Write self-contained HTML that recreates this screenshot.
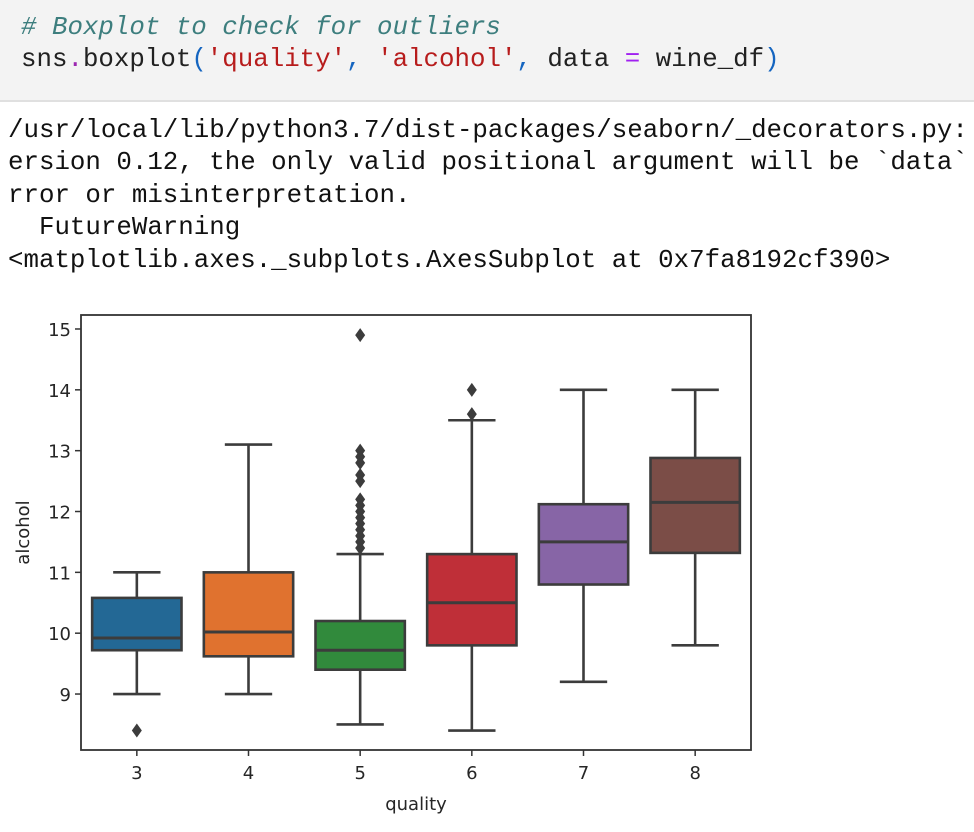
<!DOCTYPE html>
<html><head><meta charset="utf-8"><style>
body{margin:0;width:974px;height:832px;background:#fff;overflow:hidden;font-family:"Liberation Mono",monospace;}
#cell{position:absolute;left:0;top:0;width:974px;height:100px;background:#f3f3f3;border-bottom:2px solid #e0e0e0;}
.ln{position:absolute;left:21px;font-size:25.8px;white-space:pre;color:#212121;}
.out{position:absolute;left:8px;font-size:25.8px;white-space:pre;color:#111;}
svg{position:absolute;left:0;top:0;}
</style></head><body>
<div id="cell">
<div class="ln" style="top:13px;color:#3d7e7e;font-style:italic"># Boxplot to check for outliers</div>
<div class="ln" style="top:45px">sns<span style="color:#9c27b0">.</span>boxplot<span style="color:#1565c0">(</span><span style="color:#b71c1c">'quality'</span><span style="color:#1565c0">,</span> <span style="color:#b71c1c">'alcohol'</span><span style="color:#1565c0">,</span> data <span style="color:#a020f0">=</span> wine_df<span style="color:#1565c0">)</span></div>
</div>
<div class="out" style="top:116px">/usr/local/lib/python3.7/dist-packages/seaborn/_decorators.py:</div>
<div class="out" style="top:148px">ersion 0.12, the only valid positional argument will be `data`</div>
<div class="out" style="top:181px">rror or misinterpretation.</div>
<div class="out" style="top:213px">  FutureWarning</div>
<div class="out" style="top:246px">&lt;matplotlib.axes._subplots.AxesSubplot at 0x7fa8192cf390&gt;</div>
<svg id="chart" width="974" height="832"></svg>
<script>
const categories=["3","4","5","6","7","8"];
const whiskerLow=[9.0,9.0,8.5,8.4,9.2,9.8];
const q1Values=[9.72,9.62,9.4,9.8,10.8,11.32];
const medianValues=[9.92,10.02,9.72,10.5,11.5,12.15];
const q3Values=[10.58,11.0,10.2,11.3,12.12,12.88];
const whiskerHigh=[11.0,13.1,11.3,13.5,14.0,14.0];
const outliers3=[8.4];
const outliers4=[];
const outliers5=[11.4,11.5,11.6,11.7,11.8,11.9,12.0,12.1,12.2,12.5,12.6,12.8,12.9,13.0,14.9];
const outliers6=[13.6,14.0];
const outliers7=[];
const outliers8=[];
const yTicks=[9,10,11,12,13,14,15];
const colors=["#236895","#e0722f","#318a3c","#bf2f38","#8765a6","#7b4d47"];
const outlierSets=[outliers3,outliers4,outliers5,outliers6,outliers7,outliers8];

const L=81,R=751,T=315,B=750;
const yMin=8.08,yMax=15.23;
const y=v=>B-(v-yMin)/(yMax-yMin)*(B-T);
const step=(R-L)/categories.length;
const x=i=>L+step*(i+0.5);
const bw=step*0.8;
const svg=document.getElementById('chart');
const NS="http://www.w3.org/2000/svg";
function mk(tag,attrs){const e=document.createElementNS(NS,tag);for(const k in attrs)e.setAttribute(k,attrs[k]);svg.appendChild(e);return e;}
const lc="#3c3c3c";
categories.forEach((c,i)=>{
  const cx=x(i);
  let e=mk('line',{x1:cx,x2:cx,y1:y(whiskerLow[i]),y2:y(q1Values[i]),stroke:lc,'stroke-width':2.6});
  
  
  e=mk('line',{x1:cx,x2:cx,y1:y(q3Values[i]),y2:y(whiskerHigh[i]),stroke:lc,'stroke-width':2.6});
  
  
  e=mk('line',{x1:cx-bw*0.265,x2:cx+bw*0.265,y1:y(whiskerLow[i]),y2:y(whiskerLow[i]),stroke:lc,'stroke-width':2.6});
  
  
  e=mk('line',{x1:cx-bw*0.265,x2:cx+bw*0.265,y1:y(whiskerHigh[i]),y2:y(whiskerHigh[i]),stroke:lc,'stroke-width':2.6});
  
  
  e=mk('rect',{x:cx-bw/2,y:y(q3Values[i]),width:bw,height:y(q1Values[i])-y(q3Values[i]),fill:colors[i],stroke:lc,'stroke-width':2.6});
  
  
  e=mk('line',{x1:cx-bw/2,x2:cx+bw/2,y1:y(medianValues[i]),y2:y(medianValues[i]),stroke:lc,'stroke-width':3});
  
  
  outlierSets[i].forEach(v=>{
    const py=y(v);
    const d=mk('path',{d:`M${cx} ${py-7}L${cx+5} ${py}L${cx} ${py+7}L${cx-5} ${py}Z`,fill:lc});
    
    
  });
  const t=mk('line',{x1:cx,x2:cx,y1:B,y2:B+6,stroke:'#333','stroke-width':1.5});
  
  
  const tl=mk('text',{x:cx,y:B+29,'text-anchor':'middle','font-size':18,'font-family':'DejaVu Sans, sans-serif',fill:'#262626'});
  tl.textContent=c;
  
  
});
yTicks.forEach(v=>{
  const t=mk('line',{x1:L-6,x2:L,y1:y(v),y2:y(v),stroke:'#333','stroke-width':1.5});
  
  
  const tl=mk('text',{x:L-10,y:y(v)+7,'text-anchor':'end','font-size':18,'font-family':'DejaVu Sans, sans-serif',fill:'#262626'});
  tl.textContent=v;
  
  
});
const fr=mk('rect',{x:L,y:T,width:R-L,height:B-T,fill:'none',stroke:'#333','stroke-width':1.8});


const xl=mk('text',{x:(L+R)/2,y:810,'text-anchor':'middle','font-size':18,'font-family':'DejaVu Sans, sans-serif',fill:'#262626'});
xl.textContent='quality';


const yl=mk('text',{x:0,y:0,transform:`translate(29,${(T+B)/2}) rotate(-90)`,'text-anchor':'middle','font-size':18,'font-family':'DejaVu Sans, sans-serif',fill:'#262626'});
yl.textContent='alcohol';


</script>
</body></html>
